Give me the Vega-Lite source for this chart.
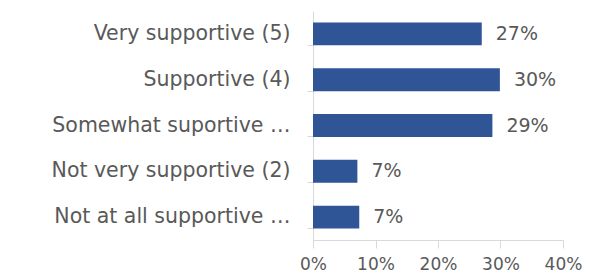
{
  "$schema": "https://vega.github.io/schema/vega-lite/v6.json",
  "width": 250,
  "height": 229,
  "autosize": {"type": "none"},
  "padding": {"left": 313, "top": 11, "right": 41, "bottom": 35},
  "background": "white",
  "config": {"view": {"stroke": null}, "font": "DejaVu Sans"},
  "data": {
    "values": [
      {"category": "Very supportive (5)", "share": 0.27},
      {"category": "Supportive (4)", "share": 0.299},
      {"category": "Somewhat suportive (3)", "share": 0.287},
      {"category": "Not very supportive (2)", "share": 0.071},
      {"category": "Not at all supportive (1)", "share": 0.074}
    ]
  },
  "encoding": {
    "y": {
      "field": "category",
      "type": "nominal",
      "sort": null,
      "scale": {"paddingInner": 0.5, "paddingOuter": 0.25},
      "axis": {
        "title": null,
        "bandPosition": 1,
        "tickSize": 6,
        "tickColor": "#d9d9d9",
        "domainColor": "#d9d9d9",
        "labelColor": "#595959",
        "labelFontSize": 20.5,
        "labelPadding": 17,
        "labelLimit": 240,
        "grid": false
      }
    },
    "x": {
      "field": "share",
      "type": "quantitative",
      "scale": {"domain": [0, 0.4]},
      "axis": {
        "title": null,
        "format": ".0%",
        "values": [0, 0.1, 0.2, 0.3, 0.4],
        "grid": false,
        "labelFlush": false,
        "labelOverlap": false,
        "tickSize": 8,
        "tickColor": "#d9d9d9",
        "domainColor": "#d9d9d9",
        "labelColor": "#595959",
        "labelFontSize": 17,
        "labelPadding": 8
      }
    }
  },
  "layer": [
    {"mark": {"type": "bar", "color": "#2F5597"}},
    {
      "mark": {"type": "text", "align": "left", "dx": 14, "fontSize": 19, "color": "#595959"},
      "encoding": {"text": {"field": "share", "type": "quantitative", "format": ".0%"}}
    }
  ]
}
